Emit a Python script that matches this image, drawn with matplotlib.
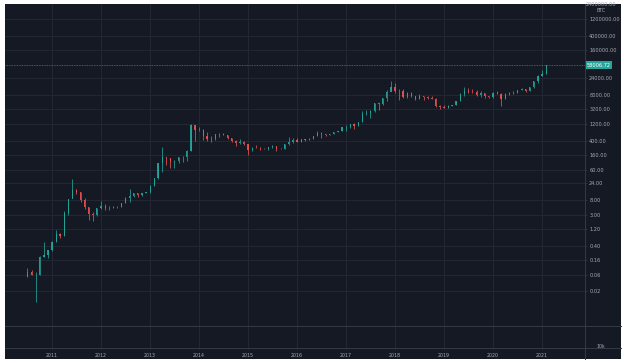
import numpy as np
import pandas as pd
import matplotlib
matplotlib.use("Agg")
import matplotlib.pyplot as plt
import matplotlib.dates as mdates
from matplotlib.patches import Rectangle
from matplotlib.lines import Line2D

# monthly BTC candles, Jul 2010 .. Feb 2021
months = pd.date_range("2010-07-01", "2021-02-01", freq="MS")

opens = [0.05, 0.07, 0.06, 0.06, 0.19, 0.21,
         0.30, 0.52, 0.86, 0.78, 3.50, 8.70, 16.1, 13.4, 8.2, 5.1, 3.2, 3.0,
         4.7, 5.5, 4.9, 4.9, 4.95, 5.2, 6.7, 9.3, 10.2, 12.4, 11.2, 12.6,
         13.5, 20.4, 33.4, 93.0, 139, 129, 97, 106, 135, 133, 204, 1130,
         805, 830, 550, 460, 445, 630, 640, 585, 480, 387, 338, 378,
         320, 217, 254, 244, 236, 230, 263, 284, 231, 236, 314, 378,
         430, 368, 437, 416, 448, 531, 673, 624, 575, 609, 700, 742,
         964, 970, 1190, 1080, 1350, 2300, 2480, 2875, 4700, 4340, 6450, 10000,
         14000, 10200, 10300, 6930, 9240, 7500, 6400, 7730, 7030, 6630, 6370, 4040,
         3740, 3460, 3830, 4100, 5320, 8570, 10800, 10080, 9600, 8290, 9150, 7550,
         7190, 9350, 8540, 6410, 8620, 9450, 9140, 11350, 11650, 10780, 13800, 19700,
         29000, 33100]

highs = [0.09, 0.08, 0.07, 0.20, 0.50, 0.30,
         0.56, 1.10, 0.95, 3.90, 8.90, 31.9, 16.6, 14.0, 9.0, 5.1, 3.7, 4.8,
         7.4, 6.3, 5.4, 5.4, 5.3, 6.8, 9.6, 16.4, 12.8, 12.9, 12.9, 14.0,
         21.0, 33.5, 95.0, 266, 140, 129, 110, 139, 150, 220, 1240, 1150,
         1000, 860, 700, 550, 630, 680, 650, 600, 490, 410, 460, 385,
         330, 265, 300, 260, 250, 270, 300, 290, 250, 330, 495, 470,
         465, 440, 440, 470, 550, 780, 700, 625, 620, 730, 755, 975,
         1150, 1195, 1295, 1350, 2760, 2990, 2920, 4750, 4980, 6450, 11400, 19800,
         17300, 11800, 11700, 9800, 9990, 7800, 8500, 7800, 7400, 7650, 6560, 4250,
         4100, 4200, 4130, 5620, 9100, 13900, 13200, 12400, 10900, 10400, 9500, 7700,
         9600, 10500, 9200, 9460, 10100, 10400, 11450, 12500, 12100, 14000, 19900, 29300,
         41950, 58350]

lows = [0.05, 0.06, 0.01, 0.06, 0.19, 0.18,
        0.29, 0.50, 0.66, 0.75, 3.00, 10.0, 12.0, 7.0, 4.5, 2.2, 2.0, 2.8,
        4.5, 4.3, 4.3, 4.8, 4.9, 5.2, 6.5, 7.1, 9.9, 10.0, 10.2, 12.5,
        13.2, 19.9, 33.0, 50, 81, 65, 65, 93, 98, 105, 200, 380,
        740, 420, 400, 360, 420, 525, 565, 440, 375, 275, 325, 300,
        152, 200, 240, 215, 225, 220, 250, 198, 225, 234, 310, 350,
        365, 365, 405, 415, 440, 528, 475, 540, 570, 605, 690, 740,
        750, 915, 890, 1070, 1350, 2150, 1830, 2680, 2980, 4150, 5500, 10900,
        9100, 6000, 6600, 6450, 7070, 5800, 6100, 5900, 6100, 6200, 3650, 3150,
        3350, 3350, 3800, 4080, 5350, 7550, 9100, 9300, 7700, 7300, 6500, 6450,
        6850, 8450, 3850, 6200, 8100, 8900, 9000, 10900, 9900, 10400, 13200, 17600,
        28000, 32300]

closes = [0.07, 0.06, 0.06, 0.19, 0.21, 0.30,
          0.52, 0.86, 0.78, 3.50, 8.70, 16.1, 13.4, 8.2, 5.1, 3.2, 3.0, 4.7,
          5.5, 4.9, 4.9, 4.95, 5.2, 6.7, 9.3, 10.2, 12.4, 11.2, 12.6, 13.5,
          20.4, 33.4, 93.0, 139, 129, 97, 106, 135, 133, 204, 1130, 805,
          830, 550, 460, 445, 630, 640, 585, 480, 387, 338, 378, 320,
          217, 254, 244, 236, 230, 263, 284, 231, 236, 314, 378, 430,
          368, 437, 416, 448, 531, 673, 624, 575, 609, 700, 742, 964,
          970, 1190, 1080, 1350, 2300, 2480, 2875, 4700, 4340, 6450, 10000, 14000,
          10200, 10300, 6930, 9240, 7500, 6400, 7730, 7030, 6630, 6370, 4040, 3740,
          3460, 3830, 4100, 5320, 8570, 10800, 10080, 9600, 8290, 9150, 7550, 7190,
          9350, 8540, 6410, 8620, 9450, 9140, 11350, 11650, 10780, 13800, 19700, 29000,
          33100, 58006.72]

last_price = 58006.72
price_ticks = [1200000, 400000, 160000, 24000, 8000, 3200, 1200, 400, 160,
               60, 24, 8, 3, 1.2, 0.4, 0.16, 0.06, 0.02]
year_labels = [str(y) for y in range(2011, 2022)]

BG = "#151924"
GRID = "#242835"
BORDER = "#363a47"
TXT = "#a7aab3"
UP = "#26a69a"
DOWN = "#ef5350"

W, H = 624, 363
fig = plt.figure(figsize=(W / 100, H / 100), dpi=100, facecolor="white")
fig.add_artist(Rectangle((5 / W, 1 - 359 / H), 616 / W, 355 / H,
                         transform=fig.transFigure, facecolor=BG, edgecolor="none", zorder=0))

ax = fig.add_axes([5 / W, 1 - 326 / H, 580 / W, 322 / H])
ax2 = fig.add_axes([5 / W, 1 - 348 / H, 580 / W, 22 / H], sharex=ax)
for a in (ax, ax2):
    a.set_facecolor("none")
    for s in a.spines.values():
        s.set_visible(False)

x = mdates.date2num(months)
o = np.array(opens)
c = np.array(closes)
hi = np.array(highs)
lo = np.array(lows)
up = c >= o
cols = np.where(up, UP, DOWN)

ax.vlines(x, lo, hi, colors=cols, linewidth=0.6, alpha=0.9, zorder=3)
ax.bar(x, np.abs(c - o), bottom=np.minimum(o, c), width=9, color=cols,
       alpha=0.9, linewidth=0, zorder=4)

ax.set_yscale("log")
ax.set_ylim(0.00203, 3.22e6)
ax.set_xlim(mdates.date2num(pd.Timestamp("2010-01-15")),
            mdates.date2num(pd.Timestamp("2021-11-17")))

ax.yaxis.tick_right()
ax.set_yticks(price_ticks)
ax.set_yticklabels([f"{v:.2f}" for v in price_ticks])
ax.yaxis.set_minor_locator(matplotlib.ticker.NullLocator())
ax.tick_params(axis="y", colors=TXT, labelsize=3.6, length=1.5, width=0.5,
               pad=1.5, color=BORDER)
ax.tick_params(axis="x", bottom=False, labelbottom=False)
ax.grid(True, color=GRID, linewidth=0.7)

year_pos = mdates.date2num(pd.to_datetime([f"{y}-01-01" for y in year_labels]))
ax.set_xticks(year_pos)
ax2.set_xticks(year_pos)
ax2.set_xticklabels(year_labels)
ax2.tick_params(axis="x", colors=TXT, labelsize=3.4, length=1, width=0.5,
                pad=2.5, color=BORDER)
ax2.set_yticks([])
ax2.grid(True, axis="x", color=GRID, linewidth=0.7)

# last price line and label
ax.axhline(last_price, color=UP, linewidth=0.6, linestyle=(0, (1, 1)), alpha=0.8, zorder=2)
ax.text(1.003, last_price, f"{last_price:.2f}", transform=ax.get_yaxis_transform(),
        fontsize=3.6, color="white", va="center", ha="left",
        bbox=dict(boxstyle="square,pad=0.3", facecolor=UP, edgecolor="none"))

# pane separators and right axis border
for yy in (326, 348):
    fig.add_artist(Line2D([5 / W, 621 / W], [1 - yy / H, 1 - yy / H],
                          transform=fig.transFigure, color=BORDER, linewidth=0.7))
fig.add_artist(Line2D([585 / W, 585 / W], [1 - 4 / H, 1 - 359 / H],
                      transform=fig.transFigure, color=BORDER, linewidth=0.7))

fig.text(601 / W, 1 - 5 / H, "2400000.00", color=TXT, fontsize=3.6, ha="center", va="center")
fig.text(601 / W, 1 - 10.5 / H, "BTC", color=TXT, fontsize=3.4, ha="center", va="center")
fig.text(596 / W, 1 - 347 / H, "10k", color=TXT, fontsize=3.4, ha="left", va="center")

fig.savefig("out.png", dpi=100, facecolor="white")
